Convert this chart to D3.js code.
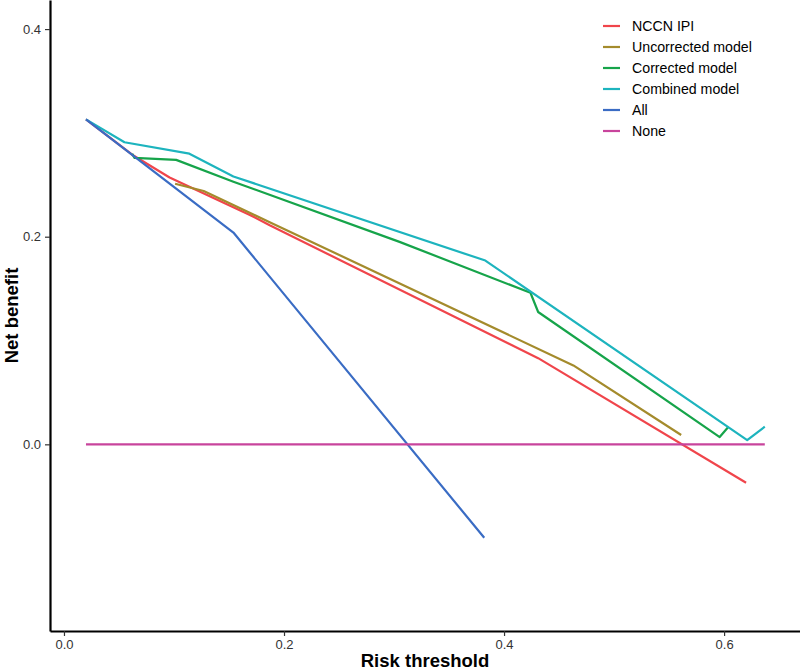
<!DOCTYPE html>
<html>
<head>
<meta charset="utf-8">
<script src="https://cdn.jsdelivr.net/npm/d3@7"></script>
<style>
  body { margin: 0; background: #fff; }
  svg { font-family: "Liberation Sans", Arial, sans-serif; }
</style>
</head>
<body>
<div id="chart"></div>
<script>
// decision curves as [threshold, net benefit]
const nccnIpi = [[0.020, 0.313], [0.062, 0.279], [0.096, 0.257], [0.169, 0.221], [0.187, 0.211], [0.431, 0.083], [0.620, -0.037]];
const uncorrected = [[0.101, 0.251], [0.127, 0.244], [0.187, 0.214], [0.463, 0.076], [0.561, 0.009]];
const corrected = [[0.062, 0.280], [0.064, 0.276], [0.102, 0.274], [0.154, 0.253], [0.305, 0.195], [0.424, 0.146], [0.431, 0.1275], [0.596, 0.007], [0.604, 0.017]];
const combined = [[0.020, 0.313], [0.055, 0.291], [0.114, 0.280], [0.154, 0.258], [0.383, 0.177], [0.621, 0.004], [0.637, 0.017]];
const treatAll = [[0.020, 0.313], [0.154, 0.204], [0.382, -0.090]];
const treatNone = [[0.020, 0], [0.637, 0]];

const seriesNames = ["NCCN IPI", "Uncorrected model", "Corrected model", "Combined model", "All", "None"];
const seriesColors = ["#f0454b", "#a48b2c", "#16a44a", "#1db4be", "#3a6cc4", "#c8449c"];
const seriesData = [nccnIpi, uncorrected, corrected, combined, treatAll, treatNone];

const xTicks = [0.0, 0.2, 0.4, 0.6];
const yTicks = [0.0, 0.2, 0.4];

const width = 800;
const height = 672;
const margin = { top: 0, right: 0, bottom: 41, left: 50 };

const x = d3.scaleLinear()
  .domain([-0.0127, 0.669])
  .range([margin.left, width - margin.right]);
const y = d3.scaleLinear()
  .domain([-0.1798, 0.428])
  .range([height - margin.bottom, margin.top]);

const svg = d3.select("#chart")
  .append("svg")
  .attr("width", width)
  .attr("height", height);

// axes, ggplot classic look
const xAxis = svg.append("g")
  .attr("transform", `translate(0,${height - margin.bottom})`)
  .call(d3.axisBottom(x).tickValues(xTicks).tickFormat(d3.format(".1f")).tickSize(5).tickSizeOuter(0).tickPadding(4))
xAxis.select(".domain").attr("stroke", "#000").attr("stroke-width", 2.2);
xAxis.selectAll(".tick line").attr("stroke", "#333").attr("stroke-width", 1.2);
xAxis.selectAll(".tick text").attr("fill", "#333").style("font-size", "13px");

const yAxis = svg.append("g")
  .attr("transform", `translate(${margin.left},0)`)
  .call(d3.axisLeft(y).tickValues(yTicks).tickFormat(d3.format(".1f")).tickSize(5).tickSizeOuter(0).tickPadding(4))
yAxis.select(".domain").attr("stroke", "#000").attr("stroke-width", 2.2);
yAxis.selectAll(".tick line").attr("stroke", "#333").attr("stroke-width", 1.2);
yAxis.selectAll(".tick text").attr("fill", "#333").style("font-size", "13px");

svg.append("text")
  .attr("x", (margin.left + width) / 2)
  .attr("y", 667)
  .attr("text-anchor", "middle")
  .style("font-size", "18.5px")
  .style("font-weight", "bold")
  .text("Risk threshold");

svg.append("text")
  .attr("transform", `translate(18,${(height - margin.bottom) / 2}) rotate(-90)`)
  .attr("text-anchor", "middle")
  .style("font-size", "18.5px")
  .style("font-weight", "bold")
  .text("Net benefit");

const line = d3.line()
  .x(d => x(d[0]))
  .y(d => y(d[1]));

svg.append("g")
  .selectAll("path")
  .data(seriesData)
  .join("path")
  .attr("d", line)
  .attr("fill", "none")
  .attr("stroke", (d, i) => seriesColors[i])
  .attr("stroke-width", 2.2)
  .attr("stroke-linejoin", "round");

// legend
const legend = svg.append("g")
  .attr("transform", "translate(603,26)");
const rows = legend.selectAll("g")
  .data(seriesNames)
  .join("g")
  .attr("transform", (d, i) => `translate(0,${i * 21})`);
rows.append("line")
  .attr("x1", 0).attr("x2", 17)
  .attr("stroke", (d, i) => seriesColors[i])
  .attr("stroke-width", 2.2);
rows.append("text")
  .attr("x", 29)
  .attr("dy", "0.35em")
  .style("font-size", "14.2px")
  .attr("fill", "#000")
  .text(d => d);
</script>
</body>
</html>
